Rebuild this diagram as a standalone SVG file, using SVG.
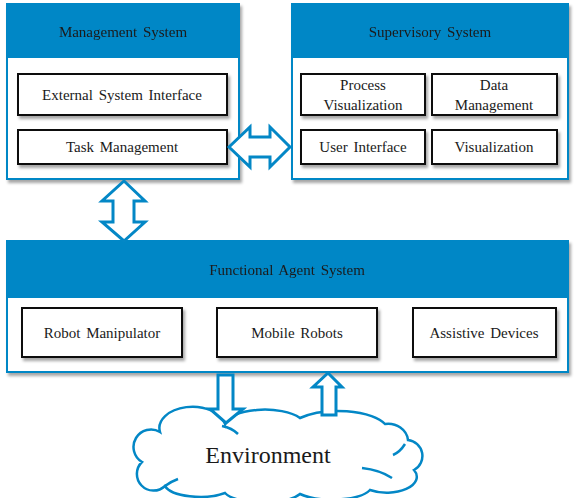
<svg xmlns="http://www.w3.org/2000/svg" width="575" height="498" viewBox="0 0 575 498">
<defs>
<filter id="sh" x="-10%" y="-10%" width="130%" height="140%">
<feDropShadow dx="2" dy="3" stdDeviation="1.5" flood-color="#000" flood-opacity="0.35"/>
</filter>
<style>
.cont{fill:#fff;stroke:#0387c6;stroke-width:2}
.hdr{fill:#0387c6}
.box{fill:#fff;stroke:#111;stroke-width:2;filter:url(#sh)}
.t{font-size:15px;fill:#1a1a1a;text-anchor:middle;word-spacing:2px}
.ar{fill:#fff;stroke:#0387c6;stroke-width:3;stroke-linejoin:miter}
.cl{fill:#fff;stroke:#0387c6;stroke-width:2.5}
.cli{fill:none;stroke:#0387c6;stroke-width:2.5}
</style>
</defs>

<g id="management" filter="url(#sh)">
<rect class="cont" x="7" y="4" width="232" height="175"/>
<rect class="hdr" x="7" y="4" width="232" height="54"/>
<text class="t" font-family="Liberation Serif, Times New Roman, serif" x="123" y="37">Management  System</text>
</g>
<g id="ext-interface">
<rect class="box" x="18" y="74" width="209" height="41"/>
<text class="t" font-family="Liberation Serif, Times New Roman, serif" x="122" y="100">External  System  Interface</text>
</g>
<g id="task-management">
<rect class="box" x="18" y="130" width="209" height="34"/>
<text class="t" font-family="Liberation Serif, Times New Roman, serif" x="122" y="152">Task Management</text>
</g>

<g id="supervisory" filter="url(#sh)">
<rect class="cont" x="292" y="4" width="276" height="175"/>
<rect class="hdr" x="292" y="4" width="276" height="54"/>
<text class="t" font-family="Liberation Serif, Times New Roman, serif" x="430" y="37">Supervisory  System</text>
</g>
<g id="process-vis">
<rect class="box" x="301" y="74" width="124" height="41"/>
<text class="t" font-family="Liberation Serif, Times New Roman, serif" x="363" y="90">Process</text>
<text class="t" font-family="Liberation Serif, Times New Roman, serif" x="363" y="110">Visualization</text>
</g>
<g id="data-management">
<rect class="box" x="432" y="74" width="125" height="41"/>
<text class="t" font-family="Liberation Serif, Times New Roman, serif" x="494" y="90">Data</text>
<text class="t" font-family="Liberation Serif, Times New Roman, serif" x="494" y="110">Management</text>
</g>
<g id="user-interface">
<rect class="box" x="301" y="130" width="124" height="34"/>
<text class="t" font-family="Liberation Serif, Times New Roman, serif" x="363" y="152">User Interface</text>
</g>
<g id="visualization">
<rect class="box" x="432" y="130" width="125" height="34"/>
<text class="t" font-family="Liberation Serif, Times New Roman, serif" x="494" y="152">Visualization</text>
</g>

<g id="functional" filter="url(#sh)">
<rect class="cont" x="7" y="241" width="561" height="131"/>
<rect class="hdr" x="7" y="241" width="561" height="57"/>
<text class="t" font-family="Liberation Serif, Times New Roman, serif" x="287" y="275">Functional  Agent  System</text>
</g>
<g id="robot-manipulator">
<rect class="box" x="22" y="308" width="160" height="49"/>
<text class="t" font-family="Liberation Serif, Times New Roman, serif" x="102" y="338">Robot Manipulator</text>
</g>
<g id="mobile-robots">
<rect class="box" x="217" y="308" width="160" height="49"/>
<text class="t" font-family="Liberation Serif, Times New Roman, serif" x="297" y="338">Mobile  Robots</text>
</g>
<g id="assistive-devices">
<rect class="box" x="413" y="308" width="143" height="49"/>
<text class="t" font-family="Liberation Serif, Times New Roman, serif" x="484" y="338">Assistive  Devices</text>
</g>

<g id="environment">
<path class="cl" d="M142,462 A16,16 0 0 1 160,432 A28,18 0 0 1 225,424 A40,16 0 0 1 300,418 A50,20 0 0 1 385,424 A20,18 0 0 1 408,440 A16,16 0 0 1 414,470 A30,16 0 0 1 370,490 A40,14 0 0 1 300,494 A40,14 0 0 1 225,493 A36,14 0 0 1 165,486 A14,14 0 0 1 142,462 Z"/>
<path class="cli" d="M222,426 Q232,428 238,434"/>
<path class="cli" d="M405,444 Q400,452 393,455"/>
<path class="cli" d="M362,468 Q380,470 392,478"/>
<path class="cli" d="M165,486 Q170,482 178,479"/>
<text x="268" y="463" font-family="Liberation Serif, Times New Roman, serif" font-size="24" fill="#1a1a1a" text-anchor="middle">Environment</text>
</g>

<g id="connectors">
<path class="ar" d="M124,181 L145,201 L134,201 L134,222 L145,222 L124,241 L102,222 L113,222 L113,201 L102,201 Z"/>
<path class="ar" d="M229,147 L250,127 L250,137 L270,137 L270,127 L290,147 L270,167 L270,157 L250,157 L250,167 Z"/>
<path class="ar" d="M218,375 L233,375 L233,409 L243,409 L226,423 L210,409 L218,409 Z"/>
<path class="ar" d="M328,373 L342,387 L336,387 L336,415 L322,415 L322,387 L313,387 Z"/>
</g>
</svg>
